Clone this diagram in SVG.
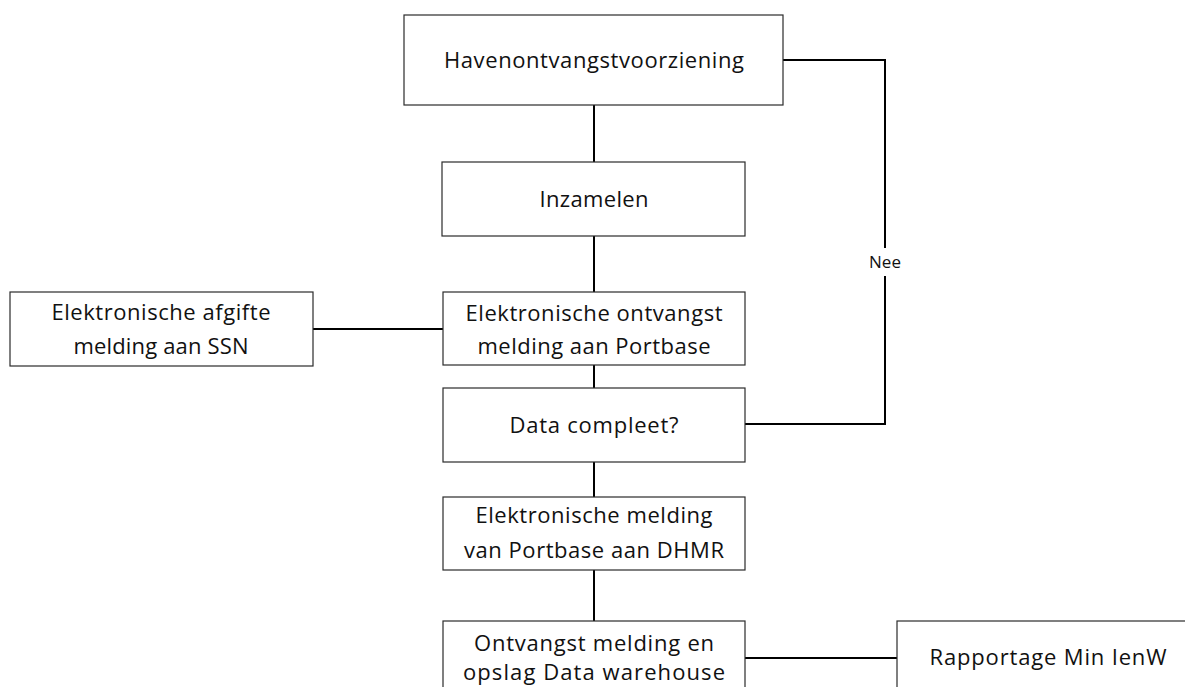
<svg xmlns="http://www.w3.org/2000/svg" width="1185" height="687" viewBox="0 0 1185 687">
<style>
.box{fill:#fff;stroke:#2b2b2b;stroke-width:1.2}
.t{font-family:"Open Sans","Liberation Sans",Arial,sans-serif;font-size:22px;fill:#111;text-anchor:middle}
.c{fill:none;stroke:#000;stroke-width:2}
.lbl{font-family:"Open Sans","Liberation Sans",Arial,sans-serif;font-size:17px;fill:#111;text-anchor:middle}
</style>
<rect width="1185" height="687" fill="#fff"/>
<g id="connectors">
<line class="c" x1="594" y1="105" x2="594" y2="162"/>
<line class="c" x1="594" y1="236" x2="594" y2="292"/>
<line class="c" x1="594" y1="365" x2="594" y2="388"/>
<line class="c" x1="594" y1="462" x2="594" y2="497"/>
<line class="c" x1="594" y1="570" x2="594" y2="621"/>
<line class="c" x1="313" y1="329" x2="443" y2="329"/>
<polyline class="c" points="745,424 885,424 885,276"/>
<polyline class="c" points="885,248 885,60 783,60"/>
<line class="c" x1="745" y1="658" x2="897" y2="658"/>
<text class="lbl" x="885" y="268">Nee</text>
</g>
<g id="n1"><rect class="box" x="404" y="15" width="379" height="90"/><text class="t" x="594" y="68" textLength="300">Havenontvangstvoorziening</text></g>
<g id="n2"><rect class="box" x="442" y="162" width="303" height="74"/><text class="t" x="594" y="207" textLength="109">Inzamelen</text></g>
<g id="n3"><rect class="box" x="10" y="292" width="303" height="74"/><text class="t" x="161" y="320" textLength="219">Elektronische afgifte</text><text class="t" x="161" y="354" textLength="175">melding aan SSN</text></g>
<g id="n4"><rect class="box" x="443" y="292" width="302" height="73"/><text class="t" x="594" y="321" textLength="257">Elektronische ontvangst</text><text class="t" x="594" y="354" textLength="233">melding aan Portbase</text></g>
<g id="n5"><rect class="box" x="443" y="388" width="302" height="74"/><text class="t" x="594" y="433" textLength="169">Data compleet?</text></g>
<g id="n6"><rect class="box" x="443" y="497" width="302" height="73"/><text class="t" x="594" y="523" textLength="237">Elektronische melding</text><text class="t" x="594" y="558" textLength="260">van Portbase aan DHMR</text></g>
<g id="n7"><rect class="box" x="443" y="621" width="302" height="74"/><text class="t" x="594" y="651" textLength="240">Ontvangst melding en</text><text class="t" x="594" y="680" textLength="262">opslag Data warehouse</text></g>
<g id="n8"><rect class="box" x="897" y="621" width="302" height="74"/><text class="t" x="1048" y="665" textLength="237">Rapportage Min IenW</text></g>
</svg>
